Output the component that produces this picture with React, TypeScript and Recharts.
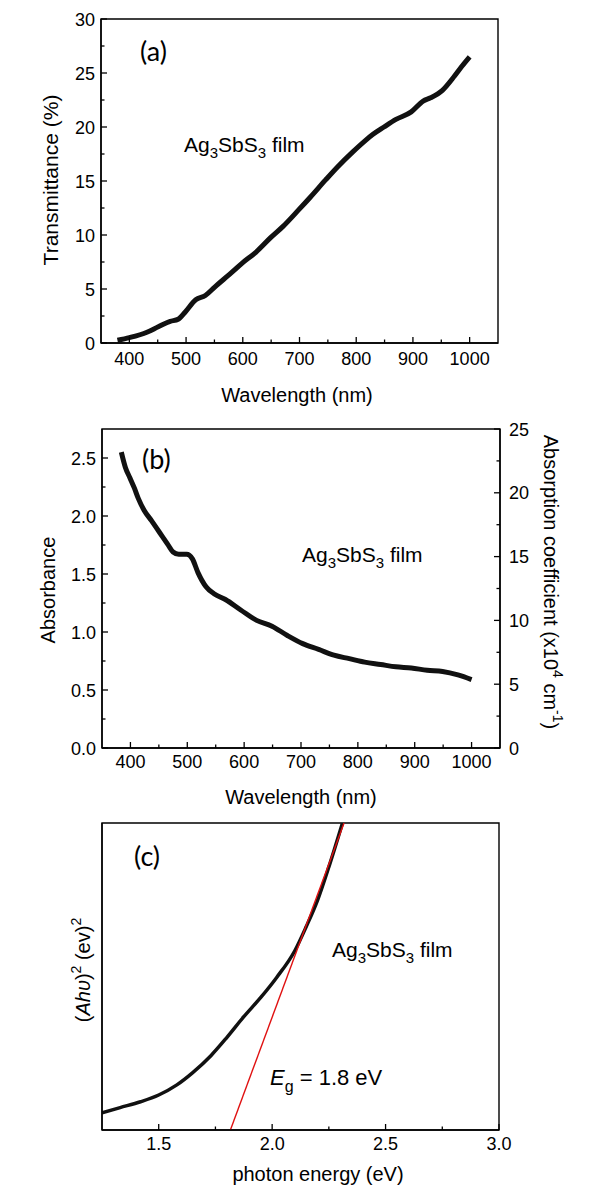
import React from "react";
import { ComposedChart, Line, XAxis, YAxis, ReferenceArea, Customized } from "recharts";

const FONT = "'Liberation Sans', Arial, sans-serif";
const PANEL_FONT = "Lato, 'Open Sans', sans-serif";

// (a) transmittance vs wavelength
const transWavelength = [379, 400, 431, 451, 472, 486, 499, 517, 534, 551, 582, 599, 623, 650, 671, 698, 719, 746, 767, 794, 815, 829, 849, 870, 897, 918, 931, 952, 973, 986, 1000];
const transValue = [0.25, 0.5, 1.0, 1.5, 2.0, 2.2, 2.9, 4.0, 4.4, 5.2, 6.6, 7.4, 8.4, 9.8, 10.8, 12.3, 13.5, 15.1, 16.3, 17.7, 18.7, 19.3, 20.0, 20.7, 21.4, 22.4, 22.7, 23.4, 24.7, 25.6, 26.5];

// (b) absorbance vs wavelength
const absWavelength = [384, 391, 399, 407, 414, 424, 437, 451, 465, 475, 485, 499, 509, 519, 533, 547, 567, 594, 622, 649, 676, 703, 731, 758, 785, 812, 840, 867, 894, 922, 949, 976, 1000];
const absValue = [2.55, 2.42, 2.33, 2.24, 2.15, 2.05, 1.96, 1.86, 1.76, 1.69, 1.67, 1.67, 1.63, 1.51, 1.39, 1.33, 1.28, 1.19, 1.1, 1.05, 0.97, 0.9, 0.85, 0.8, 0.77, 0.74, 0.72, 0.7, 0.69, 0.67, 0.66, 0.63, 0.59];

// (c) Tauc plot, arbitrary units
const photonEnergy = [1.25, 1.33, 1.42, 1.5, 1.58, 1.65, 1.73, 1.8, 1.875, 1.95, 2.02, 2.1, 2.15, 2.2, 2.25, 2.31];
const ahvSquared = [5.6, 7.3, 9.2, 11.4, 14.7, 18.7, 24.2, 30.1, 36.9, 43.2, 49.7, 58.4, 66.2, 74.8, 85.7, 100];
const fitEnergy = [1.816, 2.317];
const fitValue = [0, 100];

// ticks
const wlMajor = [400, 500, 600, 700, 800, 900, 1000];
const wlMinor = [450, 550, 650, 750, 850, 950];
const transMajor = [0, 5, 10, 15, 20, 25, 30];
const transMinor = [2.5, 7.5, 12.5, 17.5, 22.5, 27.5];
const absMajor = [0, 0.5, 1.0, 1.5, 2.0, 2.5];
const absMinor = [0.25, 0.75, 1.25, 1.75, 2.25];
const coefMajor = [0, 5, 10, 15, 20, 25];
const coefMinor = [2.5, 7.5, 12.5, 17.5, 22.5];
const evMajor = [1.5, 2.0, 2.5, 3.0];
const evMinor = [1.75, 2.25, 2.75];

const toRows = (xs: number[], ys: number[]) => xs.map((x, i) => ({ x, y: ys[i] }));
const transRows = toRows(transWavelength, transValue);
const absRows = toRows(absWavelength, absValue);
const taucRows = toRows(photonEnergy, ahvSquared);
const fitRows = toRows(fitEnergy, fitValue);

const AXIS = { stroke: "#000", strokeWidth: 1.4 };

const bottomTick = (majors: number[], fmt: (v: number) => string, dy: number) => (props: any) => {
  const { x, y, payload } = props;
  const major = majors.includes(payload.value);
  return (
    <g>
      <line x1={x} x2={x} y1={y} y2={y - (major ? 6 : 3.5)} stroke="#000" strokeWidth={1.3} />
      {major && (
        <text x={x} y={y + dy} textAnchor="middle" fontFamily={FONT} fontSize={18} fill="#000">
          {fmt(payload.value)}
        </text>
      )}
    </g>
  );
};

const leftTick = (majors: number[], fmt: (v: number) => string) => (props: any) => {
  const { x, y, payload } = props;
  const major = majors.includes(payload.value);
  return (
    <g>
      <line x1={x} x2={x + (major ? 6 : 3.5)} y1={y} y2={y} stroke="#000" strokeWidth={1.3} />
      {major && (
        <text x={x - 6} y={y + 6.5} textAnchor="end" fontFamily={FONT} fontSize={18} fill="#000">
          {fmt(payload.value)}
        </text>
      )}
    </g>
  );
};

const rightTick = (majors: number[]) => (props: any) => {
  const { x, y, payload } = props;
  const major = majors.includes(payload.value);
  return (
    <g>
      <line x1={x} x2={x - (major ? 6 : 3.5)} y1={y} y2={y} stroke="#000" strokeWidth={1.3} />
      {major && (
        <text x={x + 9} y={y + 6.5} textAnchor="start" fontFamily={FONT} fontSize={18} fill="#000">
          {payload.value}
        </text>
      )}
    </g>
  );
};

const sorted = (a: number[], b: number[]) => [...a, ...b].sort((p, q) => p - q);

function Compound({ x, y }: { x: number; y: number }) {
  return (
    <text x={x} y={y} fontFamily={FONT} fontSize={21} fill="#000">
      Ag<tspan dy={6} fontSize={15}>3</tspan>
      <tspan dy={-6}>SbS</tspan>
      <tspan dy={6} fontSize={15}>3</tspan>
      <tspan dy={-6}> film</tspan>
    </text>
  );
}

function PanelA() {
  return (
    <ComposedChart width={609} height={410} data={transRows} margin={{ top: 19, right: 111, bottom: 0, left: 0 }}>
      <XAxis dataKey="x" type="number" domain={[350, 1050]} ticks={sorted(wlMajor, wlMinor)} interval={0}
        height={67} tickSize={0} tickMargin={0} axisLine={AXIS} tickLine={false} tick={bottomTick(wlMajor, String, 22)} />
      <YAxis type="number" domain={[0, 30]} ticks={sorted(transMajor, transMinor)} interval={0}
        width={101} tickSize={0} tickMargin={0} axisLine={AXIS} tickLine={false} tick={leftTick(transMajor, String)} />
      <ReferenceArea x1={350} x2={1050} y1={0} y2={30} fill="none" stroke="#000" strokeWidth={1.4} />
      <Line dataKey="y" type="monotone" stroke="#111" strokeWidth={5} dot={false} isAnimationActive={false} />
      <Customized component={() => (
        <g fill="#000">
          <text x={140} y={61} fontFamily={PANEL_FONT} fontSize={27}>(a)</text>
          <Compound x={184} y={152} />
          <text transform="translate(50,180) rotate(-90)" textAnchor="middle" dominantBaseline="central" fontFamily={FONT} fontSize={21}>Transmittance (%)</text>
          <text x={297} y={402} textAnchor="middle" fontFamily={FONT} fontSize={20}>Wavelength (nm)</text>
        </g>
      )} />
    </ComposedChart>
  );
}

function PanelB() {
  return (
    <ComposedChart width={609} height={410} data={absRows} margin={{ top: 29, right: 0, bottom: 0, left: 0 }}>
      <XAxis dataKey="x" type="number" domain={[350, 1050]} ticks={sorted(wlMajor, wlMinor)} interval={0}
        height={62} tickSize={0} tickMargin={0} axisLine={AXIS} tickLine={false} tick={bottomTick(wlMajor, String, 20)} />
      <YAxis type="number" domain={[0, 2.75]} ticks={sorted(absMajor, absMinor)} interval={0}
        width={102} tickSize={0} tickMargin={0} axisLine={AXIS} tickLine={false} tick={leftTick(absMajor, (v) => v.toFixed(1))} />
      <YAxis yAxisId="coef" orientation="right" type="number" domain={[0, 25]} allowDataOverflow ticks={sorted(coefMajor, coefMinor)} interval={0}
        width={109} tickSize={0} tickMargin={0} axisLine={AXIS} tickLine={false} tick={rightTick(coefMajor)} />
      <ReferenceArea x1={350} x2={1050} y1={0} y2={2.75} fill="none" stroke="#000" strokeWidth={1.4} />
      <Line dataKey="y" type="monotone" stroke="#111" strokeWidth={5} dot={false} isAnimationActive={false} />
      <Customized component={() => (
        <g fill="#000">
          <text x={142} y={69} fontFamily={PANEL_FONT} fontSize={27}>(b)</text>
          <Compound x={302} y={162} />
          <text transform="translate(48,190) rotate(-90)" textAnchor="middle" dominantBaseline="central" fontFamily={FONT} fontSize={20}>Absorbance</text>
          <text transform="translate(551,182) rotate(90)" textAnchor="middle" dominantBaseline="central" fontFamily={FONT} fontSize={20}>
            Absorption coefficient (x10<tspan dy={-7} fontSize={14}>4</tspan><tspan dy={7}> cm</tspan><tspan dy={-7} fontSize={14}>-1</tspan><tspan dy={7}>)</tspan>
          </text>
          <text x={301} y={404} textAnchor="middle" fontFamily={FONT} fontSize={20}>Wavelength (nm)</text>
        </g>
      )} />
    </ComposedChart>
  );
}

function PanelC() {
  return (
    <ComposedChart width={609} height={391} data={taucRows} margin={{ top: 23, right: 110, bottom: 0, left: 0 }}>
      <XAxis dataKey="x" type="number" domain={[1.25, 3.0]} ticks={sorted(evMajor, evMinor)} interval={0} allowDataOverflow
        height={61} tickSize={0} tickMargin={0} axisLine={AXIS} tickLine={false} tick={bottomTick(evMajor, (v) => v.toFixed(1), 20)} />
      <YAxis type="number" domain={[0, 100]} allowDataOverflow width={102} tick={false} tickLine={false} axisLine={AXIS} />
      <ReferenceArea x1={1.25} x2={3.0} y1={0} y2={100} fill="none" stroke="#000" strokeWidth={1.4} />
      <Line dataKey="y" type="monotone" stroke="#111" strokeWidth={3.5} dot={false} isAnimationActive={false} />
      <Line data={fitRows} dataKey="y" type="linear" stroke="#e01010" strokeWidth={1.4} dot={false} isAnimationActive={false} />
      <Customized component={() => (
        <g fill="#000">
          <text x={134} y={66} fontFamily={PANEL_FONT} fontSize={27}>(c)</text>
          <Compound x={332} y={157} />
          <text x={270} y={285} fontFamily={FONT} fontSize={22}>
            <tspan fontStyle="italic">E</tspan><tspan dy={7} fontSize={16}>g</tspan><tspan dy={-7}> = 1.8 eV</tspan>
          </text>
          <text transform="translate(83,170) rotate(-90)" textAnchor="middle" dominantBaseline="central" fontFamily={FONT} fontSize={20}>
            (<tspan fontStyle="italic">Ahυ</tspan>)<tspan dy={-7} fontSize={14}>2</tspan><tspan dy={7}> (ev)</tspan><tspan dy={-7} fontSize={14}>2</tspan>
          </text>
          <text x={318} y={381} textAnchor="middle" fontFamily={FONT} fontSize={20}>photon energy (eV)</text>
        </g>
      )} />
    </ComposedChart>
  );
}

export default function App() {
  return (
    <div style={{ position: "absolute", left: 0, top: 0, width: 609, height: 1191, background: "#fff" }}>
      <div style={{ position: "absolute", left: 0, top: 0 }}><PanelA /></div>
      <div style={{ position: "absolute", left: 0, top: 400 }}><PanelB /></div>
      <div style={{ position: "absolute", left: 0, top: 800 }}><PanelC /></div>
    </div>
  );
}
